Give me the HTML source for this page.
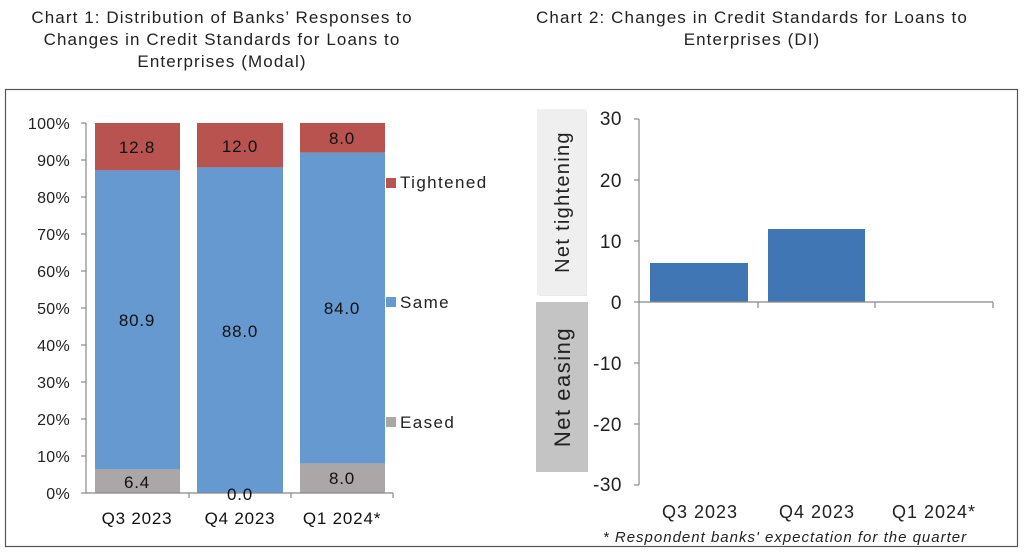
<!DOCTYPE html>
<html><head><meta charset="utf-8"><style>
body{margin:0;background:#fff;}
svg{display:block;font-family:"Liberation Sans",sans-serif;}
</style></head><body>
<svg width="1024" height="553" viewBox="0 0 1024 553">
<rect x="0" y="0" width="1024" height="553" fill="#fff"/>
<g font-size="17" fill="#222" text-anchor="middle" letter-spacing="1.1">
<text x="222" y="23">Chart 1: Distribution of Banks’ Responses to</text>
<text x="222" y="45">Changes in Credit Standards for Loans to</text>
<text x="222" y="67">Enterprises (Modal)</text>
<text x="752" y="23">Chart 2: Changes in Credit Standards for Loans to</text>
<text x="752" y="45">Enterprises (DI)</text>
</g>
<rect x="5.5" y="89.5" width="1012" height="457" fill="none" stroke="#555" stroke-width="1.2"/>
<!-- chart 1 -->
<g>
<rect x="95" y="123" width="85" height="47.4" fill="#b9534f"/>
<rect x="95" y="170.4" width="85" height="299" fill="#6699cf"/>
<rect x="95" y="469.3" width="85" height="23.7" fill="#aba6a7"/>
<rect x="197" y="123" width="86" height="44.4" fill="#b9534f"/>
<rect x="197" y="167.4" width="86" height="325.6" fill="#6699cf"/>
<rect x="300" y="123" width="85" height="29.6" fill="#b9534f"/>
<rect x="300" y="152.6" width="85" height="310.8" fill="#6699cf"/>
<rect x="300" y="463.4" width="85" height="29.6" fill="#aba6a7"/>
<g stroke="#888" stroke-width="1.2">
<line x1="86" y1="123" x2="86" y2="493"/>
<line x1="86" y1="493" x2="393" y2="493"/>
<line x1="81" y1="123" x2="86" y2="123"/><line x1="81" y1="160" x2="86" y2="160"/><line x1="81" y1="197" x2="86" y2="197"/><line x1="81" y1="234" x2="86" y2="234"/><line x1="81" y1="271" x2="86" y2="271"/><line x1="81" y1="308" x2="86" y2="308"/><line x1="81" y1="345" x2="86" y2="345"/><line x1="81" y1="382" x2="86" y2="382"/><line x1="81" y1="419" x2="86" y2="419"/><line x1="81" y1="456" x2="86" y2="456"/><line x1="81" y1="493" x2="86" y2="493"/>
<line x1="189" y1="493" x2="189" y2="498"/><line x1="291" y1="493" x2="291" y2="498"/><line x1="393" y1="493" x2="393" y2="498"/>
</g>
<g font-size="16" fill="#222" text-anchor="end" letter-spacing="0.3">
<text x="70" y="129">100%</text><text x="70" y="166">90%</text><text x="70" y="203">80%</text><text x="70" y="240">70%</text><text x="70" y="277">60%</text><text x="70" y="314">50%</text><text x="70" y="351">40%</text><text x="70" y="388">30%</text><text x="70" y="425">20%</text><text x="70" y="462">10%</text><text x="70" y="499">0%</text>
</g>
<g font-size="17" fill="#111" text-anchor="middle" letter-spacing="0.8">
<text x="137" y="153">12.8</text><text x="240" y="152">12.0</text><text x="342" y="144">8.0</text>
<text x="137" y="326">80.9</text><text x="240" y="337">88.0</text><text x="342" y="314">84.0</text>
<text x="137" y="488">6.4</text><text x="240" y="500">0.0</text><text x="342" y="484">8.0</text>
<text x="137" y="524">Q3 2023</text><text x="240" y="524">Q4 2023</text><text x="342" y="524">Q1 2024*</text>
</g>
<rect x="386" y="178" width="10" height="10" fill="#b9534f"/>
<rect x="386" y="297" width="10" height="10" fill="#6699cf"/>
<rect x="386" y="417" width="10" height="10" fill="#aba6a7"/>
<g font-size="17" fill="#222" letter-spacing="1.4">
<text x="400" y="188">Tightened</text><text x="400" y="308">Same</text><text x="400" y="428">Eased</text>
</g>
</g>
<!-- chart 2 -->
<g>
<rect x="539" y="111" width="48" height="185" fill="#d8d8d8" opacity="0.6"/>
<rect x="537" y="109" width="49" height="186" fill="#efefef"/>
<rect x="536" y="302" width="52" height="170" fill="#c4c4c4"/>
<text transform="translate(569,202) rotate(-90)" font-size="20" fill="#222" text-anchor="middle" letter-spacing="1.3">Net tightening</text>
<text transform="translate(570,387) rotate(-90)" font-size="22" fill="#222" text-anchor="middle" letter-spacing="1.5">Net easing</text>
<rect x="650" y="263" width="98" height="39" fill="#4176b4"/>
<rect x="768" y="229" width="97" height="73" fill="#4176b4"/>
<g stroke="#888" stroke-width="1.2">
<line x1="639" y1="119" x2="639" y2="485"/>
<line x1="639" y1="302" x2="993" y2="302"/>
<line x1="634" y1="119" x2="639" y2="119"/><line x1="634" y1="180" x2="639" y2="180"/><line x1="634" y1="241" x2="639" y2="241"/><line x1="634" y1="302" x2="639" y2="302"/><line x1="634" y1="363" x2="639" y2="363"/><line x1="634" y1="424" x2="639" y2="424"/><line x1="634" y1="485" x2="639" y2="485"/>
<line x1="758" y1="302" x2="758" y2="308"/><line x1="875" y1="302" x2="875" y2="308"/><line x1="993" y1="302" x2="993" y2="308"/>
</g>
<g font-size="19" fill="#222" text-anchor="end" letter-spacing="0.5">
<text x="622" y="125">30</text><text x="622" y="187">20</text><text x="622" y="248">10</text><text x="622" y="309">0</text><text x="622" y="370">-10</text><text x="622" y="431">-20</text><text x="622" y="491">-30</text>
</g>
<g font-size="18" fill="#222" text-anchor="middle" letter-spacing="1">
<text x="700" y="518">Q3 2023</text><text x="817" y="518">Q4 2023</text><text x="934" y="518">Q1 2024*</text>
</g>
<text x="785" y="542" font-size="15" font-style="italic" fill="#222" text-anchor="middle" letter-spacing="1">* Respondent banks' expectation for the quarter</text>
</g>
</svg>
</body></html>
